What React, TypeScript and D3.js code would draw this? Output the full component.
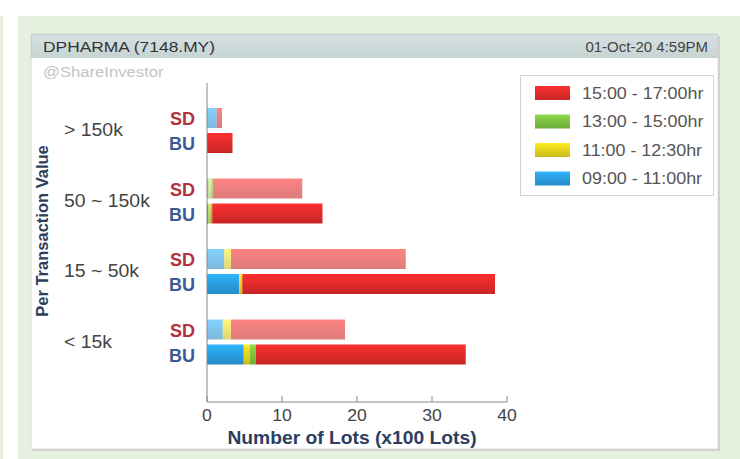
import React from 'react';
import * as d3 from 'd3';

// transaction value buckets (top to bottom)
const categories = ['> 150k', '50 ~ 150k', '15 ~ 50k', '< 15k'];
const sides = ['SD', 'BU'];

// legend shows latest period first
const periods = ['09:00 - 11:00hr', '11:00 - 12:30hr', '13:00 - 15:00hr', '15:00 - 17:00hr'];
const periodColors = ['#2a9ee0', '#e3d31c', '#7dc242', '#e12a2a'];

// lots (x100) per row: >150k SD, >150k BU, 50~150k SD, BU, 15~50k SD, BU, <15k SD, BU
const blueVals = [1.3, 0, 0.2, 0.2, 2.3, 4.3, 2.1, 4.9];
const yellowVals = [0, 0, 0.3, 0.3, 0.9, 0.4, 1.1, 0.8];
const greenVals = [0, 0, 0.3, 0.2, 0, 0, 0, 0.8];
const redVals = [0.7, 3.4, 11.9, 14.7, 23.3, 33.7, 15.2, 28.0];

const xTicks = [0, 10, 20, 30, 40];

const W = 740;
const H = 459;
const FONT = '"Liberation Sans", Arial, sans-serif';

// text that is a bit wider than the installed font draws it
const T = ({ x, y, sx = 1, children, ...rest }: any) => (
  <text transform={`translate(${x},${y}) scale(${sx},1)`} {...rest}>{children}</text>
);

export default function App() {
  const x = d3.scaleLinear().domain([0, 40]).range([207, 507]);
  const yGroup = d3.scaleBand().domain(categories).range([95, 377]);
  const ySide = d3.scaleBand().domain(sides).range([13, 58]).paddingInner(0.2);

  const series = [blueVals, yellowVals, greenVals, redVals];
  const rows = categories.flatMap((c, ci) =>
    sides.map((s, si) => {
      const idx = ci * 2 + si;
      const row: any = { cat: c, side: s };
      periods.forEach((p, pi) => { row[p] = series[pi][idx]; });
      return row;
    })
  );
  const stacked = d3.stack().keys(periods)(rows);

  const legendPeriods = periods.slice().reverse();

  return (
    <svg width={W} height={H} style={{ position: 'absolute', left: 0, top: 0, fontFamily: FONT }}>
      <defs>
        {periodColors.map((c, i) => (
          <linearGradient key={i} id={'g' + i} x1="0" y1="0" x2="0" y2="1">
            <stop offset="0" stopColor={d3.color(c)!.brighter(0.35).toString()} />
            <stop offset="0.5" stopColor={c} />
            <stop offset="1" stopColor={d3.color(c)!.darker(0.35).toString()} />
          </linearGradient>
        ))}
        <linearGradient id="titlebar" x1="0" y1="0" x2="0" y2="1">
          <stop offset="0" stopColor="#d6e1e1" />
          <stop offset="1" stopColor="#c7d4d4" />
        </linearGradient>
      </defs>

      <rect x={0} y={0} width={W} height={H} fill="#fff" />
      <rect x={0} y={16} width={3} height={H - 16} fill="#e6f0df" />
      <rect x={18} y={16} width={W - 18} height={H - 16} fill="#e6f0df" />

      {/* chart frame */}
      <rect x={32} y={36} width={688} height={415} fill="#d0d0d0" />
      <rect x={31} y={34} width={687} height={415} fill="#fff" stroke="#d8d8d8" />
      <rect x={31.5} y={34.5} width={686} height={23} fill="url(#titlebar)" stroke="#c8d0d0" />
      <T x={43} y={52} sx={1.16} fontSize={15} fill="#333">DPHARMA (7148.MY)</T>
      <T x={708} y={52} fontSize={15} fill="#444" textAnchor="end">01-Oct-20 4:59PM</T>
      <T x={43} y={77} sx={1.15} fontSize={14.5} fill="#c4c4c4">@ShareInvestor</T>

      {/* bars */}
      {stacked.map((s, si) => (
        <g key={s.key} fill={`url(#g${si})`}>
          {s.map((d, i) => {
            const row = rows[i];
            const w = x(d[1]) - x(d[0]);
            if (w <= 0) return null;
            return (
              <rect
                key={i}
                x={x(d[0])}
                y={yGroup(row.cat)! + ySide(row.side)!}
                width={w}
                height={ySide.bandwidth()}
                fillOpacity={row.side === 'SD' ? 0.6 : 1}
              />
            );
          })}
        </g>
      ))}

      {/* axes */}
      <line x1={207} x2={207} y1={83} y2={402} stroke="#888" />
      <line x1={207} x2={507} y1={402} y2={402} stroke="#888" />
      {xTicks.map((t) => (
        <g key={t}>
          <line x1={x(t)} x2={x(t)} y1={396} y2={402} stroke="#888" />
          <T x={x(t)} y={421} sx={1.1} fontSize={16} fill="#444" textAnchor="middle">{t}</T>
        </g>
      ))}
      <T x={352} y={444} sx={1.07} fontSize={18} fontWeight="bold" fill="#2c3e5e" textAnchor="middle">
        Number of Lots (x100 Lots)
      </T>

      {categories.map((c) => (
        <g key={c}>
          <T x={64} y={yGroup(c)! + yGroup.bandwidth() / 2 + 6} sx={1.08} fontSize={18} fill="#444">{c}</T>
          {sides.map((s) => (
            <text
              key={s}
              x={195}
              y={yGroup(c)! + ySide(s)! + ySide.bandwidth() / 2 + 7}
              fontSize={18}
              fontWeight="bold"
              fill={s === 'SD' ? '#b3303c' : '#3a5a98'}
              textAnchor="end"
            >
              {s}
            </text>
          ))}
        </g>
      ))}
      <text
        transform="translate(48,231) rotate(-90)"
        fontSize={16.5}
        fontWeight="bold"
        fill="#2c3e5e"
        textAnchor="middle"
      >
        Per Transaction Value
      </text>

      {/* legend */}
      <rect x={520.5} y={75.5} width={193} height={120} fill="#fff" stroke="#d4d4d4" />
      {legendPeriods.map((p, i) => {
        const ci = periods.indexOf(p);
        const cy = 93 + i * 28.5;
        return (
          <g key={p}>
            <rect x={535} y={cy - 7} width={35} height={14} fill={`url(#g${ci})`} />
            <T x={582} y={cy + 5.5} sx={1.12} fontSize={16} fill="#555">{p}</T>
          </g>
        );
      })}
    </svg>
  );
}
